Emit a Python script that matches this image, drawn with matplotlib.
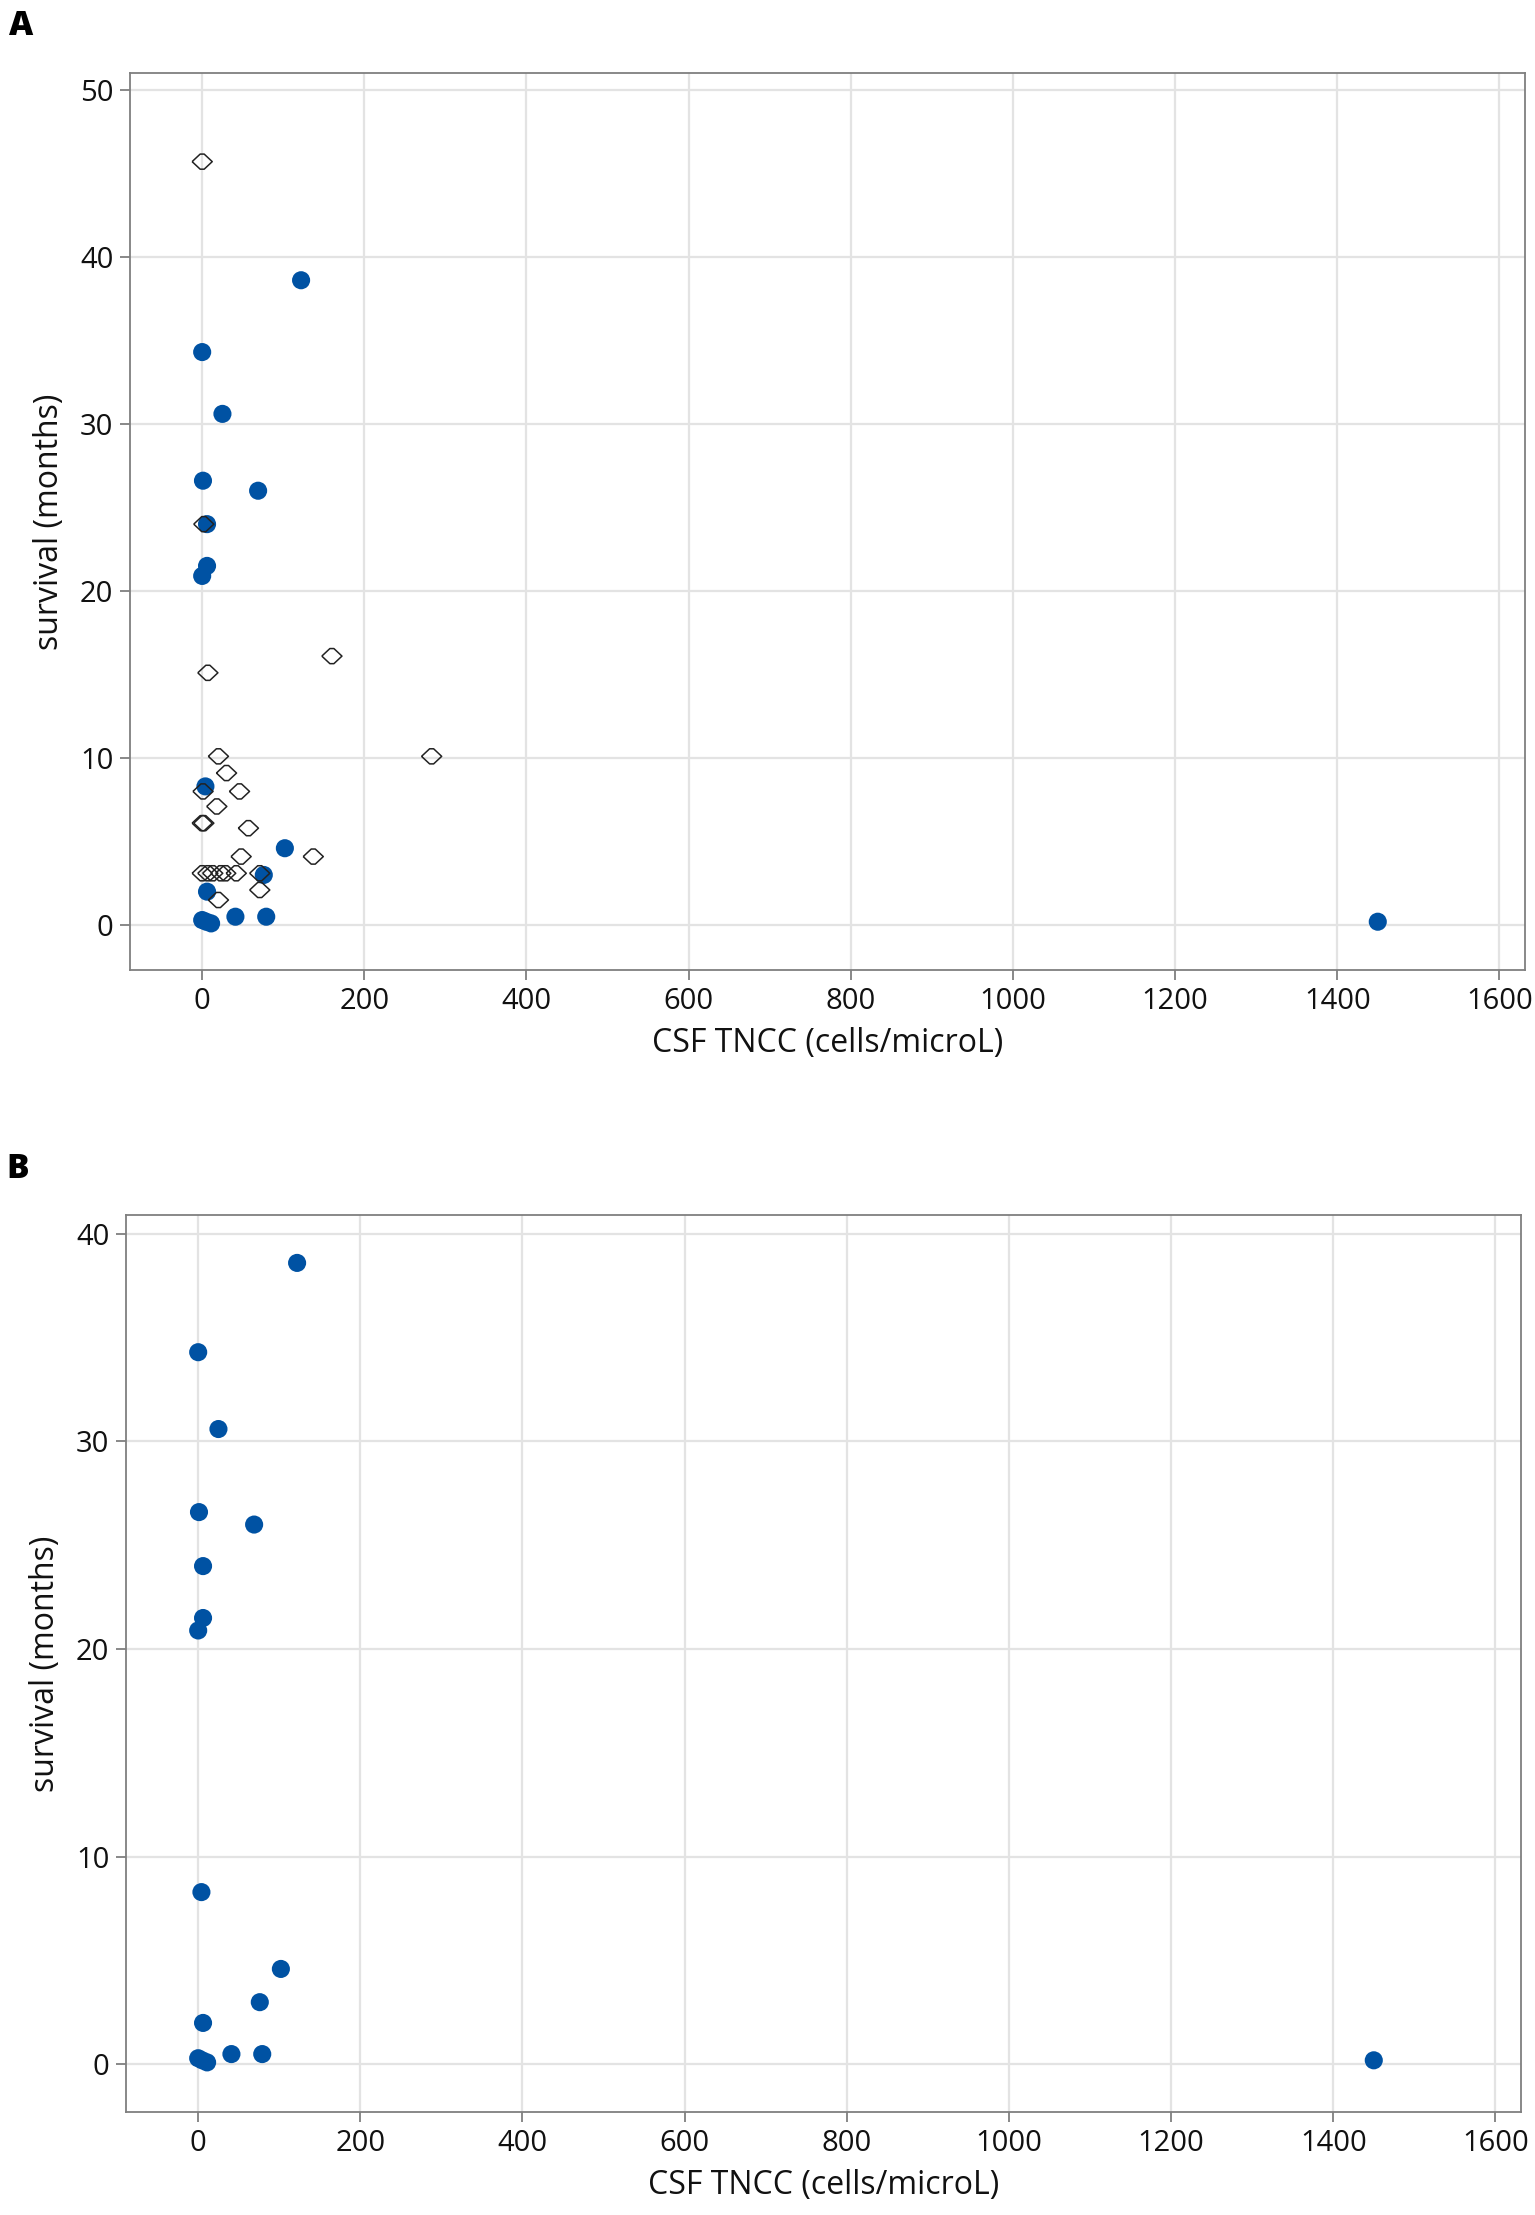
import matplotlib
matplotlib.use('Agg')
from matplotlib import pyplot as plt

# CSF TNCC (cells/microL) and survival (months)
# filled blue circles (shown in both panels)
blue_tncc = [122, 0, 25, 1, 69, 6, 6, 0, 4, 102, 76, 6, 0, 11, 5, 41, 79, 1450]
blue_surv = [38.6, 34.3, 30.6, 26.6, 26.0, 24.0, 21.5, 20.9, 8.3, 4.6, 3.0, 2.0,
             0.3, 0.1, 0.2, 0.5, 0.5, 0.2]

# open diamonds (panel A only)
open_tncc = [0, 2, 160, 7, 283, 20, 30, 1, 46, 18, 0, 2, 57, 137, 48,
             0, 7, 13, 23, 29, 42, 71, 71, 20]
open_surv = [45.7, 24.0, 16.1, 15.1, 10.1, 10.1, 9.1, 8.0, 8.0, 7.1, 6.1, 6.1,
             5.8, 4.1, 4.1, 3.1, 3.1, 3.1, 3.1, 3.1, 3.1, 3.1, 2.1, 1.5]

x_ticks = list(range(0, 1601, 200))
y_ticks_a = [0, 10, 20, 30, 40, 50]
y_ticks_b = [0, 10, 20, 30, 40]

plt.rcParams['font.family'] = ['Open Sans', 'DejaVu Sans']

blue = '#0052a3'
grid_col = '#e3e3e3'
spine_col = '#7f7f7f'
text_col = '#111111'

# squashed diamond like the original software draws
diamond = [(-1, 0), (-0.2, 0.75), (0.2, 0.75), (1, 0), (0.2, -0.75), (-0.2, -0.75), (-1, 0)]

fig = plt.figure(figsize=(15.35, 22.15), dpi=100)
axA = fig.add_axes([0.0847, 0.562, 0.909, 0.405])
axB = fig.add_axes([0.0821, 0.0464, 0.909, 0.405])


def style(ax, yticks, ylim):
    ax.set_xlim(-89, 1632)
    ax.set_ylim(*ylim)
    ax.set_xticks(x_ticks)
    ax.set_yticks(yticks)
    ax.grid(True, color=grid_col, linewidth=1.6)
    ax.set_axisbelow(True)
    for s in ax.spines.values():
        s.set_color(spine_col)
        s.set_linewidth(1.3)
    ax.tick_params(axis='both', direction='out', length=7, width=1.3,
                   color=spine_col, labelsize=21, labelcolor=text_col, pad=5)
    ax.set_xlabel('CSF TNCC (cells/microL)', fontsize=23, color=text_col, labelpad=8)
    ax.set_ylabel('survival (months)', fontsize=23, color=text_col, labelpad=10)


# panel A
axA.scatter(blue_tncc, blue_surv, s=170, color=blue, edgecolors='none', zorder=3)
axA.scatter(open_tncc, open_surv, s=210, marker=diamond, facecolors='none',
            edgecolors='#222222', linewidths=1.1, zorder=4)
style(axA, y_ticks_a, (-2.7, 51.0))

# panel B
axB.scatter(blue_tncc, blue_surv, s=170, color=blue, edgecolors='none', zorder=3)
style(axB, y_ticks_b, (-2.3, 40.9))

fig.text(0.006, 0.996, 'A', fontsize=24, fontweight='heavy', va='top', ha='left')
fig.text(0.004, 0.480, 'B', fontsize=24, fontweight='heavy', va='top', ha='left')

plt.savefig('out.png', dpi=100)
